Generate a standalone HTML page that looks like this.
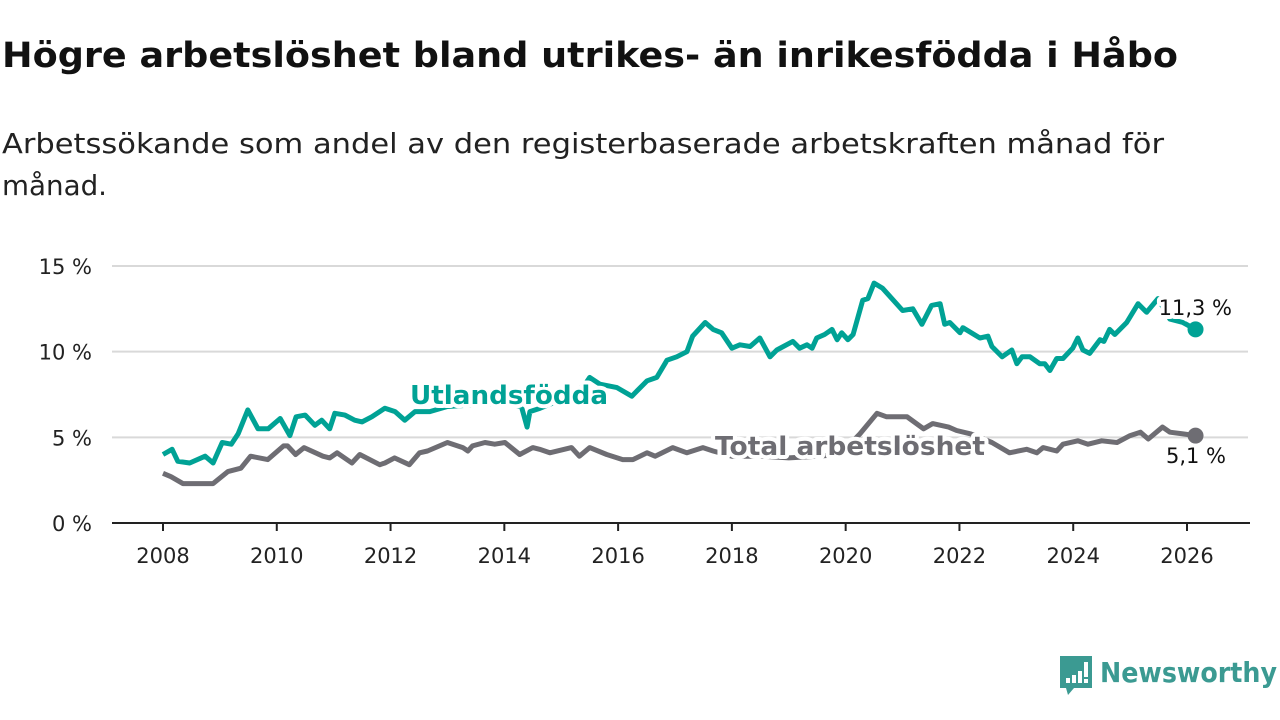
<!DOCTYPE html>
<html><head><meta charset="utf-8">
<style>
html,body{margin:0;padding:0;background:#fff;}
body{width:1280px;height:720px;overflow:hidden;position:relative;font-family:"DejaVu Sans","Liberation Sans",sans-serif;color:#111;}
svg{position:absolute;left:0;top:0;}
</style></head>
<body>
<svg id="chart" width="1280" height="720">
<text x="2" y="67" font-size="35" font-weight="bold" fill="#111" textLength="1176" lengthAdjust="spacingAndGlyphs">Högre arbetslöshet bland utrikes- än inrikesfödda i Håbo</text>
<text x="2" y="153" font-size="28" fill="#222" textLength="1162" lengthAdjust="spacingAndGlyphs">Arbetssökande som andel av den registerbaserade arbetskraften månad för</text>
<text x="2" y="195" font-size="28" fill="#222" textLength="105" lengthAdjust="spacingAndGlyphs">månad.</text>
</svg>
<script>
const yTicks=[0,5,10,15];
const xTicks=[2008,2010,2012,2014,2016,2018,2020,2022,2024,2026];
const utlDates=[2008.0,2008.16,2008.26,2008.47,2008.74,2008.88,2009.04,2009.2,2009.32,2009.49,2009.67,2009.85,2010.06,2010.23,2010.34,2010.5,2010.67,2010.79,2010.93,2011.02,2011.2,2011.37,2011.5,2011.67,2011.9,2012.08,2012.25,2012.43,2012.69,2013.0,2013.5,2014.0,2014.3,2014.4,2014.45,2014.63,2015.0,2015.4,2015.5,2015.68,2015.98,2016.24,2016.51,2016.68,2016.86,2017.03,2017.21,2017.31,2017.53,2017.67,2017.82,2018.0,2018.14,2018.32,2018.49,2018.67,2018.79,2019.07,2019.19,2019.32,2019.41,2019.49,2019.63,2019.76,2019.85,2019.93,2020.04,2020.13,2020.3,2020.39,2020.5,2020.65,2021.0,2021.18,2021.34,2021.51,2021.66,2021.74,2021.83,2022.01,2022.06,2022.36,2022.5,2022.57,2022.75,2022.92,2023.01,2023.1,2023.24,2023.41,2023.5,2023.59,2023.71,2023.82,2023.99,2024.08,2024.17,2024.29,2024.47,2024.54,2024.64,2024.73,2024.94,2025.14,2025.29,2025.49,2025.7,2025.93,2026.15];
const utlValues=[4.0,4.3,3.6,3.5,3.9,3.5,4.7,4.6,5.2,6.6,5.5,5.5,6.1,5.1,6.2,6.3,5.7,6.0,5.5,6.4,6.3,6.0,5.9,6.2,6.7,6.5,6.0,6.5,6.5,6.8,6.9,7.0,6.8,5.6,6.5,6.7,7.2,8.0,8.5,8.1,7.9,7.4,8.3,8.5,9.5,9.7,10.0,10.9,11.7,11.3,11.1,10.2,10.4,10.3,10.8,9.7,10.1,10.6,10.2,10.4,10.2,10.8,11.0,11.3,10.7,11.1,10.7,11.0,13.0,13.1,14.0,13.7,12.4,12.5,11.6,12.7,12.8,11.6,11.7,11.1,11.4,10.8,10.9,10.3,9.7,10.1,9.3,9.7,9.7,9.3,9.3,8.9,9.6,9.6,10.2,10.8,10.1,9.9,10.7,10.6,11.3,11.0,11.7,12.8,12.3,13.1,11.9,11.7,11.3];
const totDates=[2008.0,2008.14,2008.35,2008.88,2009.14,2009.37,2009.54,2009.84,2010.12,2010.19,2010.33,2010.48,2010.81,2010.93,2011.06,2011.32,2011.46,2011.81,2011.9,2012.07,2012.33,2012.51,2012.65,2013.0,2013.27,2013.36,2013.44,2013.66,2013.83,2014.01,2014.27,2014.5,2014.62,2014.8,2015.18,2015.32,2015.5,2015.8,2016.08,2016.26,2016.51,2016.65,2016.96,2017.21,2017.49,2017.67,2018.0,2018.5,2019.0,2019.5,2019.9,2020.25,2020.55,2020.72,2021.08,2021.37,2021.53,2021.81,2021.95,2022.2,2022.57,2022.88,2023.18,2023.36,2023.47,2023.71,2023.82,2024.08,2024.26,2024.5,2024.77,2025.0,2025.18,2025.32,2025.57,2025.7,2025.93,2026.15];
const totValues=[2.9,2.7,2.3,2.3,3.0,3.2,3.9,3.7,4.5,4.5,4.0,4.4,3.9,3.8,4.1,3.5,4.0,3.4,3.5,3.8,3.4,4.1,4.2,4.7,4.4,4.2,4.5,4.7,4.6,4.7,4.0,4.4,4.3,4.1,4.4,3.9,4.4,4.0,3.7,3.7,4.1,3.9,4.4,4.1,4.4,4.2,3.9,3.9,3.8,3.9,4.0,5.2,6.4,6.2,6.2,5.5,5.8,5.6,5.4,5.2,4.7,4.1,4.3,4.1,4.4,4.2,4.6,4.8,4.6,4.8,4.7,5.1,5.3,4.9,5.6,5.3,5.2,5.1];

const svg=document.getElementById('chart');
const NS='http://www.w3.org/2000/svg';
const x0=112,x1=1250,yBase=523,yTop=266;
function xs(v){return 163+(v-2008)*(1187-163)/18;}
function ys(v){return yBase-(v/15)*(yBase-yTop);}
function mk(t,attrs,parent){const e=document.createElementNS(NS,t);for(const k in attrs)e.setAttribute(k,attrs[k]);(parent||svg).appendChild(e);return e;}

yTicks.forEach(t=>{
  if(t>0){const g=mk('line',{x1:x0,x2:1248,y1:ys(t),y2:ys(t),stroke:'#d9d9d9','stroke-width':2});
  
  }
  const l=mk('text',{x:92,y:ys(t)+8,'text-anchor':'end','font-size':21,fill:'#222'});
  l.textContent=t+' %';
  
  
});
xTicks.forEach(t=>{
  const tk=mk('line',{x1:xs(t),x2:xs(t),y1:yBase,y2:yBase+8,stroke:'#222','stroke-width':2});
  
  
  const l=mk('text',{x:xs(t),y:563,'text-anchor':'middle','font-size':21,fill:'#222'});
  l.textContent=t;
  
  
});
const ax=mk('line',{x1:x0,x2:x1,y1:yBase,y2:yBase,stroke:'#222','stroke-width':2});



function line(d,v,color,name){
  const p=d.map((t,i)=>(i?'L':'M')+xs(t).toFixed(1)+','+ys(v[i]).toFixed(1)).join('');
  const e=mk('path',{d:p,fill:'none',stroke:color,'stroke-width':5,'stroke-linejoin':'round'});
  
  
  const c=mk('circle',{cx:xs(d[d.length-1]),cy:ys(v[v.length-1]),r:8,fill:color});
  
  
}
line(totDates,totValues,'#6e6d73','total-line');
line(utlDates,utlValues,'#00a295','utlandsfodda-line');

function label(txt,x,y,color,size,weight,name,anchor,len){
  const a={x:x,y:y,fill:color,'font-size':size,'font-weight':weight,stroke:'#fff','stroke-width':8,'paint-order':'stroke','stroke-linejoin':'round','text-anchor':anchor||'start'};
  if(len){a.textLength=len;a.lengthAdjust='spacingAndGlyphs';}
  const e=mk('text',a);
  e.textContent=txt;
  
  
}
label('Utlandsfödda',410,404,'#00a295',26,'bold','utlandsfodda-label',null,198);
label('Total arbetslöshet',715,455,'#6e6d73',26,'bold','total-label',null,270);
label('11,3 %',1232,315,'#111',21,'normal','utl-end-value','end');
label('5,1 %',1226,463,'#111',21,'normal','total-end-value','end');

// logo
const lg=mk('g',{});


mk('path',{d:'M1060,656 h32 v32 h-18 l-6,7 l-2,-7 h-6 z',fill:'#3b9a92'},lg);
mk('rect',{x:1066,y:678,width:4,height:5,fill:'#fff'},lg);
mk('rect',{x:1072,y:675,width:4,height:8,fill:'#fff'},lg);
mk('rect',{x:1078,y:671,width:4,height:12,fill:'#fff'},lg);
mk('rect',{x:1084,y:662,width:4,height:15,fill:'#fff'},lg);
mk('rect',{x:1084,y:679,width:4,height:4,fill:'#fff'},lg);
const lt=mk('text',{x:1100,y:682,fill:'#3b9a92','font-size':28,'font-weight':'bold',textLength:177,lengthAdjust:'spacingAndGlyphs'},lg);
lt.textContent='Newsworthy';
</script>
</body></html>
